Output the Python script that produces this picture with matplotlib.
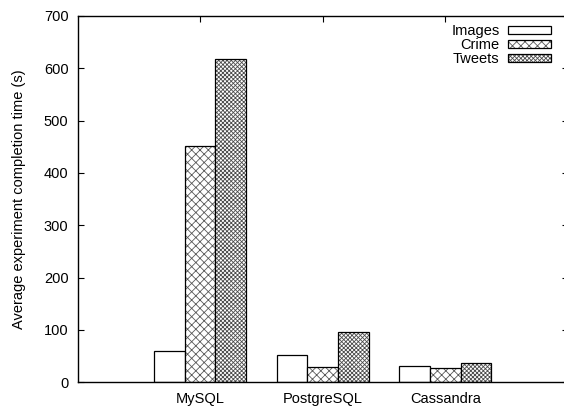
import matplotlib
matplotlib.use('Agg')
import matplotlib.pyplot as plt
from matplotlib.patches import Patch
from matplotlib.legend_handler import HandlerTuple
import numpy as np

# data
databases = ['MySQL', 'PostgreSQL', 'Cassandra']
images = [60, 53, 31]
crime = [451, 29, 28]
tweets = [618, 97, 36]

series = [('Images', images, '', '0.3'),
          ('Crime', crime, 'xxxx', '0.35'),
          ('Tweets', tweets, 'xxxxxxxx', '0.3')]

plt.rcParams['font.family'] = ['Liberation Sans', 'DejaVu Sans']
plt.rcParams['hatch.linewidth'] = 0.6

fs = 10.5
fig = plt.figure(figsize=(5.64, 4.07), dpi=100)
# right spine sits just past the image edge, as in the reference
ax = fig.add_axes((77.5/564, 24.7/407, (568-77.5)/564, 366.3/407))

x = np.arange(1, len(databases) + 1)
width = 0.25
handles = []
for i, (name, vals, hatch, hcol) in enumerate(series):
    pos = x + (i - 1) * width
    # hatch layer first, then the black outline on top
    ax.bar(pos, vals, width, color='white', edgecolor=hcol, hatch=hatch,
           linewidth=0)
    ax.bar(pos, vals, width, fill=False, edgecolor='black', linewidth=0.9)
    fillp = Patch(facecolor='white', edgecolor=hcol, hatch=hatch, linewidth=0)
    edgep = Patch(fill=False, edgecolor='black', linewidth=0.9)
    handles.append((fillp, edgep))

ax.set_xlim(0, 4)
ax.set_ylim(0, 700)
ax.set_yticks(range(0, 701, 100))
ax.set_xticks(x)
ax.set_xticklabels(databases)
ax.tick_params(direction='in', length=4, width=0.8, labelsize=fs,
               top=True, right=True, pad=6.5)
ax.tick_params(axis='x', bottom=False, pad=7)
for s in ax.spines.values():
    s.set_linewidth(1.0)
ax.set_ylabel('Average experiment completion time (s)', fontsize=fs,
              labelpad=13)

ax.legend(handles, [s[0] for s in series], loc='upper right',
          markerfirst=False, frameon=False, fontsize=fs, handlelength=2.9,
          handleheight=0.45, labelspacing=0.0, handletextpad=0.6,
          borderpad=0, bbox_to_anchor=((558-77.5)/490.5, 1 - 1/366.3),
          handler_map={tuple: HandlerTuple(ndivide=1, pad=0)})

fig.savefig('out.png', dpi=100)
